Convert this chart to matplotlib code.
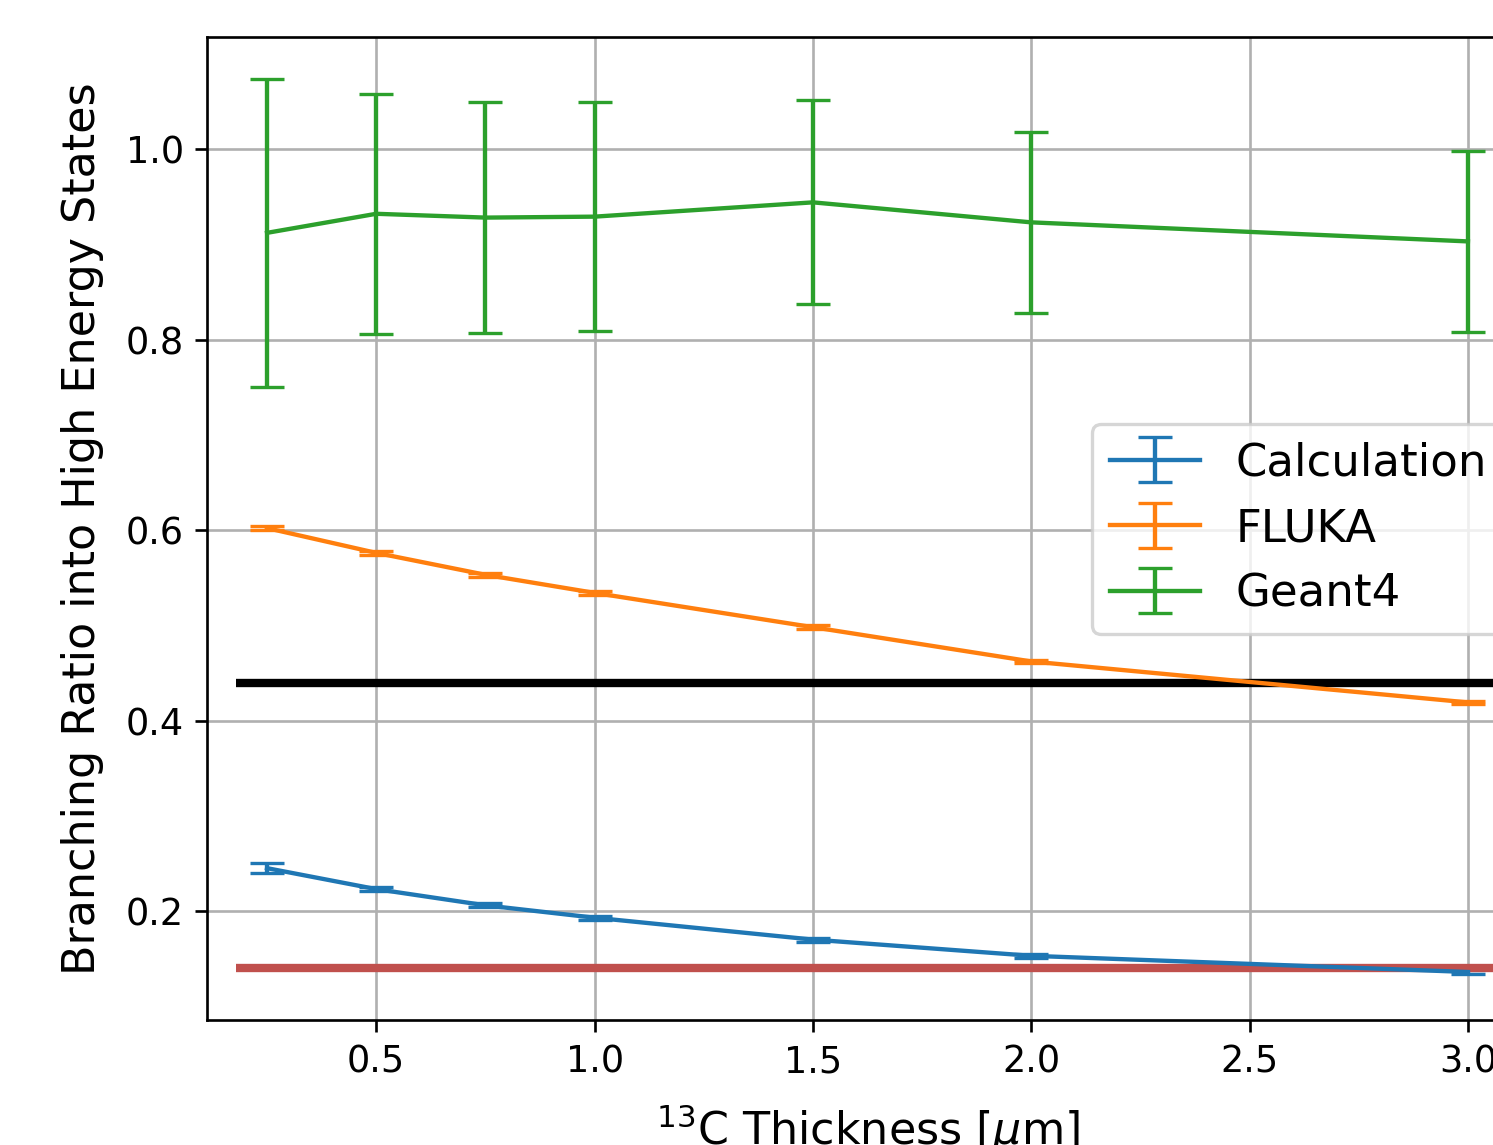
import matplotlib
matplotlib.use("Agg")
import matplotlib.pyplot as plt

thickness = [0.25, 0.5, 0.75, 1.0, 1.5, 2.0, 3.0]

calc_vals = [0.245, 0.223, 0.206, 0.193, 0.170, 0.153, 0.136]
calc_errs = [0.005, 0.002, 0.002, 0.002, 0.002, 0.002, 0.002]

fluka_vals = [0.602, 0.576, 0.553, 0.534, 0.498, 0.462, 0.419]
fluka_errs = [0.002, 0.002, 0.002, 0.002, 0.002, 0.002, 0.002]

geant_vals = [0.912, 0.932, 0.928, 0.929, 0.944, 0.923, 0.903]
geant_errs = [0.162, 0.126, 0.121, 0.120, 0.107, 0.095, 0.095]

ref_high = 0.439
ref_low = 0.140

dpi = 240
fig = plt.figure(figsize=(1493 / dpi, 1145 / dpi), dpi=dpi)
ax = fig.add_axes([207 / 1493, 1 - 1020 / 1145, (1528 - 207) / 1493, (1020 - 37) / 1145])

ax.errorbar(thickness, calc_vals, yerr=calc_errs, capsize=5, label="Calculation", color="C0", linewidth=1.3)
ax.errorbar(thickness, fluka_vals, yerr=fluka_errs, capsize=5, label="FLUKA", color="C1", linewidth=1.3)
ax.errorbar(thickness, geant_vals, yerr=geant_errs, capsize=5, label="Geant4", color="C2", linewidth=1.3)

ax.hlines(ref_high, 0.18, 3.3, color="black", linewidth=2.5)
ax.hlines(ref_low, 0.18, 3.3, color="#c0504d", linewidth=2.5)

ax.set_xlim(0.1125, 3.1375)
ax.set_ylim(0.0856, 1.1176)
ax.set_xticks([0.5, 1.0, 1.5, 2.0, 2.5, 3.0])
ax.set_yticks([0.2, 0.4, 0.6, 0.8, 1.0])
ax.tick_params(labelsize=11)
ax.grid(True)
ax.set_axisbelow(True)

ax.set_xlabel(r"$^{13}$C Thickness [$\mu$m]", fontsize=13.3, labelpad=6.5)
ax.set_ylabel("Branching Ratio into High Energy States", fontsize=13.3, labelpad=6.5)
ax.legend(loc="center right", fontsize=13.5)

fig.savefig("out.png", dpi=dpi)
